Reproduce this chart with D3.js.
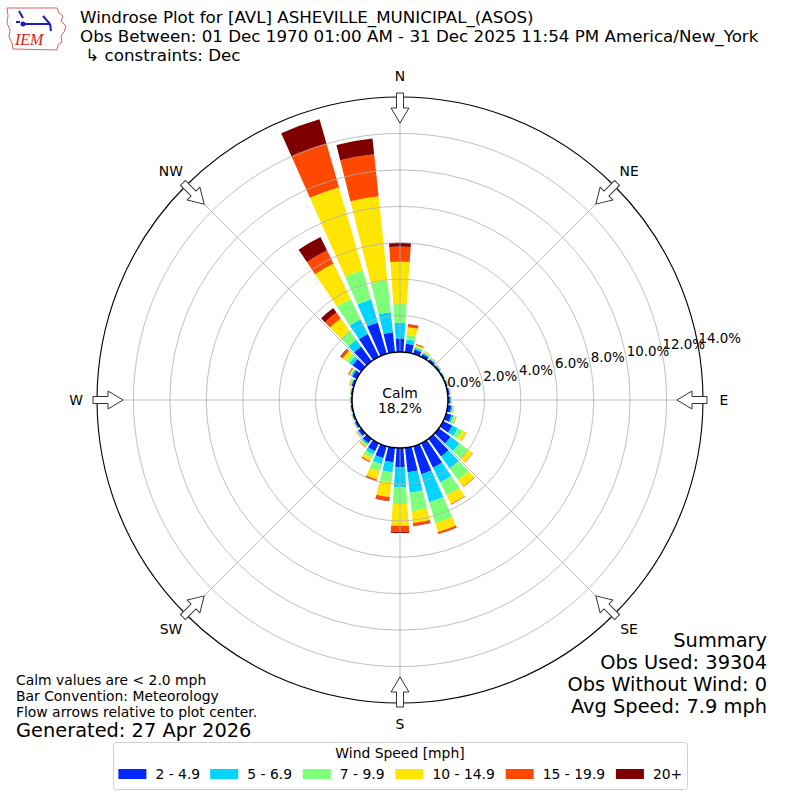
<!DOCTYPE html>
<html><head><meta charset="utf-8">
<script src="https://cdn.jsdelivr.net/npm/d3@7"></script>
<style>
body{margin:0;background:#fff}
svg{display:block}
text{font-family:"DejaVu Sans",sans-serif;fill:#000}
</style>
</head><body>
<svg id="chart" width="800" height="800"></svg>
<script>
// ---------------- data ----------------
const directions = [0,10,20,30,40,50,60,70,80,90,100,110,120,130,140,150,160,170,180,190,200,210,220,230,240,250,260,270,280,290,300,310,320,330,340,350];
const speedBins = ["2 - 4.9","5 - 6.9","7 - 9.9","10 - 14.9","15 - 19.9","20+"];
const binColors = ["#0028ff","#00d4ff","#7dff7a","#ffe600","#ff4800","#800000"];
// percent of observations per direction, per speed bin
const pct2to5   = [0.75,0.47,0.25,0.18,0.13,0.10,0.08,0.08,0.10,0.13,0.20,0.30,0.55,0.80,1.20,1.50,1.60,1.36,1.06,0.80,0.68,0.50,0.30,0.20,0.12,0.09,0.08,0.07,0.08,0.13,0.28,0.60,1.00,1.40,1.79,1.10];
const pct5to7   = [0.86,0.24,0.10,0.07,0.05,0.04,0.03,0.03,0.03,0.04,0.07,0.12,0.35,0.60,0.80,0.90,1.60,1.12,1.10,0.56,0.35,0.20,0.10,0.06,0.04,0.03,0.02,0.02,0.02,0.05,0.08,0.20,0.45,0.90,1.32,1.11];
const pct7to10  = [1.03,0.25,0.07,0.05,0.03,0.03,0.02,0.02,0.02,0.03,0.05,0.10,0.30,0.60,0.80,0.80,1.20,1.02,0.92,0.56,0.42,0.22,0.08,0.04,0.02,0.02,0.01,0.01,0.02,0.04,0.06,0.20,0.60,1.25,1.67,1.76];
const pct10to15 = [2.32,0.43,0.08,0.04,0.03,0.02,0.02,0.01,0.02,0.02,0.03,0.06,0.20,0.30,0.45,0.52,0.50,0.65,1.19,0.80,0.45,0.18,0.07,0.03,0.02,0.01,0.01,0.01,0.01,0.04,0.06,0.25,0.85,2.15,4.74,4.64];
const pct15to20 = [0.83,0.15,0.05,0.02,0.01,0.01,0.00,0.01,0.01,0.00,0.01,0.02,0.02,0.02,0.03,0.04,0.10,0.15,0.33,0.20,0.08,0.06,0.03,0.02,0.01,0.01,0.01,0.01,0.01,0.02,0.04,0.13,0.40,0.80,2.48,2.32];
const pct20plus = [0.21,0.02,0.01,0.00,0.00,0.00,0.00,0.00,0.00,0.00,0.00,0.00,0.00,0.00,0.00,0.00,0.02,0.03,0.07,0.03,0.02,0.01,0.00,0.00,0.00,0.00,0.00,0.00,0.00,0.00,0.02,0.04,0.30,0.82,1.40,0.87];
const rTicks = [0,2,4,6,8,10,12,14];
const compassLabels = ["N","NE","E","SE","S","SW","W","NW"];
const compassAngles = [0,45,90,135,180,225,270,315];
const calmPct = 18.2;
const titleLines = ["Windrose Plot for [AVL] ASHEVILLE_MUNICIPAL_(ASOS)",
                    "Obs Between: 01 Dec 1970 01:00 AM - 31 Dec 2025 11:54 PM America/New_York",
                    " \u21b3 constraints: Dec"];
const noteLines = ["Calm values are < 2.0 mph","Bar Convention: Meteorology","Flow arrows relative to plot center."];
const generatedText = "Generated: 27 Apr 2026";
const summaryLines = ["Summary","Obs Used: 39304","Obs Without Wind: 0","Avg Speed: 7.9 mph"];

// ---------------- chart ----------------
const svg = d3.select("#chart");
const cx = 400, cy = 400;
const r = d3.scaleLinear().domain([0,14]).range([48,303]);
const rad = d => d*Math.PI/180;

const series = [pct2to5,pct5to7,pct7to10,pct10to15,pct15to20,pct20plus];
const table = directions.map((dir,i)=>{
  const o = {dir};
  speedBins.forEach((b,k)=>{ o[b] = series[k][i]; });
  return o;
});
const stacked = d3.stack().keys(speedBins)(table);

const g = svg.append("g").attr("transform",`translate(${cx},${cy})`);
const halfW = 4; // degrees
const arc = d3.arc()
  .innerRadius(d=>r(d[0]))
  .outerRadius(d=>r(d[1]))
  .startAngle(d=>rad(d.data.dir-halfW))
  .endAngle(d=>rad(d.data.dir+halfW));

g.append("g").selectAll("g").data(stacked).join("g")
  .attr("fill",(d,i)=>binColors[i])
  .selectAll("path").data(d=>d.filter(p=>p[1]>p[0])).join("path")
  .attr("d",arc);

// grid
const grid = g.append("g").attr("fill","none").attr("stroke","#b0b0b0").attr("stroke-width",0.8);
grid.selectAll("circle").data(rTicks.slice(1,-1)).join("circle").attr("r",d=>r(d));
grid.selectAll("line").data(compassAngles).join("line")
  .attr("x1",0).attr("y1",0)
  .attr("x2",d=>r(14)*Math.sin(rad(d)))
  .attr("y2",d=>-r(14)*Math.cos(rad(d)));

// outer spine
g.append("circle").attr("r",r(14)).attr("fill","none").attr("stroke","#000").attr("stroke-width",1.1);

// calm circle
g.append("circle").attr("r",r(0)).attr("fill","#fff").attr("stroke","#000").attr("stroke-width",1.5);
g.append("text").attr("text-anchor","middle").attr("y",-2).attr("font-size","13.9px").text("Calm");
g.append("text").attr("text-anchor","middle").attr("y",13).attr("font-size","13.9px").text(calmPct.toFixed(1)+"%");

// radial labels
const labAng = rad(10);
g.append("g").selectAll("text").data(rTicks).join("text")
  .attr("x",d=>r(d)*Math.cos(labAng))
  .attr("y",d=>-r(d)*Math.sin(labAng)-9)
  .attr("dy","0.35em")
  .attr("font-size","13.4px")
  .text(d=>d.toFixed(1)+"%");

// arrows
const arrowPts = [[0,-277],[9,-292],[3.5,-292],[3.5,-307],[-3.5,-307],[-3.5,-292],[-9,-292]];
g.append("g").selectAll("polygon").data(compassAngles).join("polygon")
  .attr("points",arrowPts.map(p=>p.join(",")).join(" "))
  .attr("transform",d=>`rotate(${d})`)
  .attr("fill","#fff").attr("stroke","#333").attr("stroke-width",1);

// compass labels
g.append("g").selectAll("text").data(compassAngles).join("text")
  .attr("x",d=>324*Math.sin(rad(d)))
  .attr("y",d=>-324*Math.cos(rad(d)))
  .attr("dy","0.35em").attr("text-anchor","middle")
  .attr("font-size","13.9px")
  .text((d,i)=>compassLabels[i]);

// title
svg.append("g").selectAll("text").data(titleLines).join("text")
  .attr("x",80).attr("y",(d,i)=>23+i*19)
  .attr("font-size","16.7px")
  .attr("xml:space","preserve").style("white-space","pre")
  .text(d=>d);

// logo
const logo = svg.append("g");
logo.append("path")
  .attr("d","M7,8 L57,8 L59,13 L63,16 L61,21 L66,26 L64,32 L61,36 L62,42 L58,45 L57,50 L13,49 L12,43 L9,37 L10,30 L7,23 L8,16 Z")
  .attr("fill","none").attr("stroke","#e06060").attr("stroke-width",1);
logo.append("circle").attr("cx",23).attr("cy",24).attr("r",2.5).attr("fill","#1a1ac8");
logo.append("path").attr("d","M23,24 L50,24 M50,24 L51,31 M43,16 L50,24 M19,11 L23,18 M16,22 L20,22")
  .attr("stroke","#1a1ac8").attr("stroke-width",2).attr("fill","none");
logo.append("text").attr("x",15).attr("y",45).attr("font-size","16px")
  .style("font-family","'Liberation Serif',serif").style("font-style","italic")
  .style("fill","#d42020").text("IEM");

// notes
svg.append("g").selectAll("text").data(noteLines).join("text")
  .attr("x",16).attr("y",(d,i)=>685+i*16)
  .attr("font-size","13.9px").text(d=>d);
svg.append("text").attr("x",16).attr("y",737).attr("font-size","19.4px").text(generatedText);

// summary
svg.append("g").selectAll("text").data(summaryLines).join("text")
  .attr("x",767).attr("y",(d,i)=>647+i*22)
  .attr("text-anchor","end")
  .attr("font-size","19.4px").text(d=>d);

// legend
const lg = svg.append("g");
lg.append("rect").attr("x",113.5).attr("y",742.5).attr("width",574).attr("height",47).attr("rx",3)
  .attr("fill","#fff").attr("stroke","#d0d0d0").attr("stroke-width",1);
lg.append("text").attr("x",400).attr("y",758).attr("text-anchor","middle").attr("font-size","13.9px").text("Wind Speed [mph]");
const legX = [118.4,210.2,302.8,395.4,505.7,615.9];
const items = lg.selectAll("g.item").data(speedBins).join("g").attr("class","item")
  .attr("transform",(d,i)=>`translate(${legX[i]},774)`);
items.append("rect").attr("x",0).attr("y",-5).attr("width",28).attr("height",10).attr("fill",(d,i)=>binColors[i]);
items.append("text").attr("x",37).attr("dy","0.35em").attr("font-size","13.9px").text(d=>d);
</script>
</body></html>
